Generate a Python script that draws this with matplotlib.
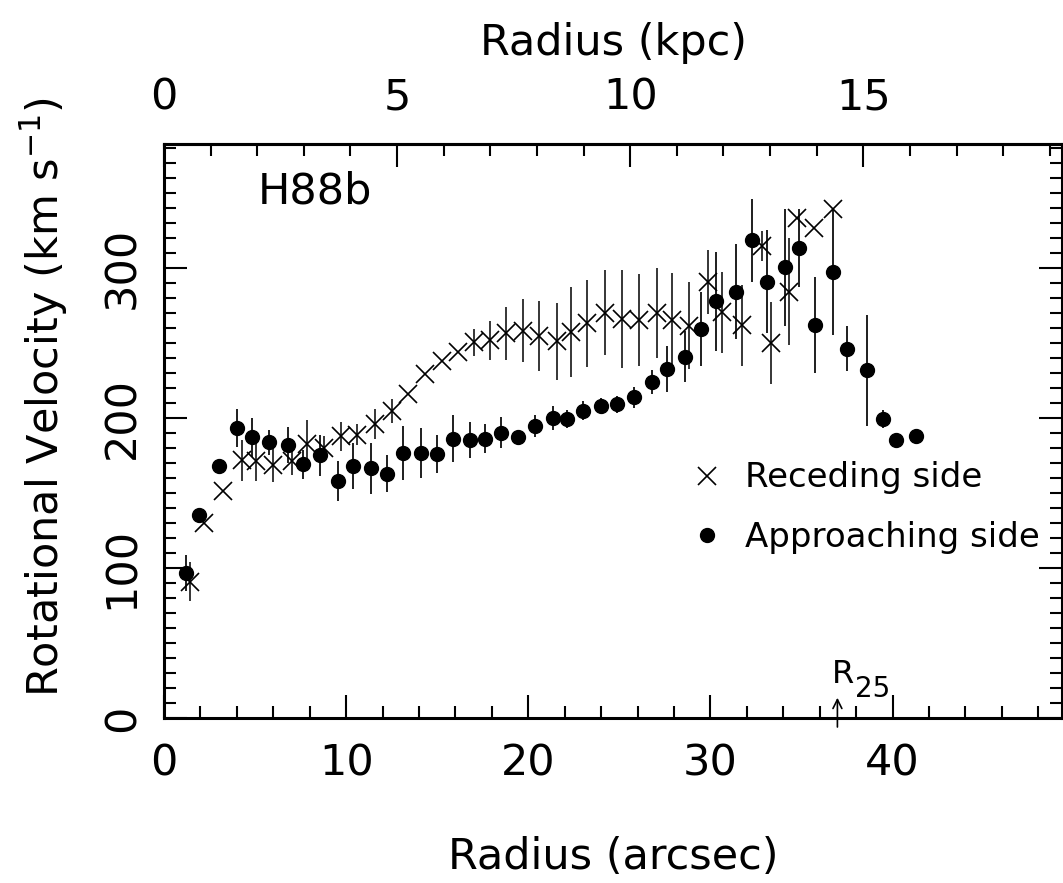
import numpy as np
import matplotlib
matplotlib.use("Agg")
import matplotlib.pyplot as plt
from matplotlib.ticker import MultipleLocator

# rotation curve of H88b, receding and approaching sides
rec_r = [1.43, 2.20, 3.26, 4.26, 5.03, 6.00, 7.00, 7.87, 8.80, 9.73,
         10.59, 11.60, 12.49, 13.37, 14.32, 15.27, 16.16, 17.04, 17.90, 18.76,
         19.69, 20.60, 21.55, 22.34, 23.20, 24.20, 25.16, 26.09, 27.08, 27.87,
         28.84, 29.88, 30.61, 31.71, 32.81, 33.32, 34.29, 34.77, 35.70, 36.74]
rec_v = [90.9, 129.8, 150.9, 171.6, 170.9, 168.7, 170.9, 182.4, 180.2, 187.6,
         188.7, 196.0, 204.2, 215.8, 229.1, 238.0, 243.5, 250.2, 251.5, 256.3,
         258.0, 254.5, 250.9, 257.4, 263.0, 270.0, 265.8, 265.2, 270.0, 265.2,
         261.2, 290.5, 270.2, 261.6, 314.5, 249.8, 284.0, 333.3, 326.2, 338.8]
rec_e = [13, 0, 0, 13.7, 13, 11.7, 9.2, 15.8, 7.9, 9.7,
         7, 10, 8, 0, 0, 0, 0, 9, 13.3, 17.5,
         21, 23.3, 25.7, 30, 29, 28.5, 32.7, 30.8, 30, 31,
         29, 21.5, 27, 27, 10, 27.5, 35.5, 0, 0, 0]

app_r = [1.19, 1.94, 3.00, 4.00, 4.81, 5.78, 6.79, 7.63, 8.58, 9.53,
         10.37, 11.38, 12.22, 13.14, 14.10, 15.00, 15.86, 16.79, 17.65, 18.51,
         19.41, 20.38, 21.33, 22.13, 23.00, 23.97, 24.86, 25.81, 26.78, 27.64,
         28.61, 29.49, 30.32, 31.38, 32.30, 33.09, 34.10, 34.85, 35.76, 36.74,
         37.50, 38.57, 39.50, 40.16, 41.31]
app_v = [96.4, 135.1, 167.6, 193.1, 187.1, 183.6, 181.8, 169.1, 175.1, 157.8,
         168.0, 166.4, 162.7, 176.4, 176.4, 176.0, 186.2, 185.3, 186.2, 190.2,
         187.1, 194.7, 199.8, 199.1, 204.7, 207.8, 208.9, 213.8, 223.6, 232.4,
         240.7, 259.1, 277.6, 284.0, 318.2, 290.7, 300.4, 313.2, 261.6, 297.1,
         246.1, 231.7, 199.1, 184.9, 187.6]
app_e = [12, 0, 0, 12.5, 13, 8.5, 12, 9.7, 13.6, 13.5,
         15.5, 17, 12.3, 17.8, 16.7, 12.6, 15.8, 12.2, 9.8, 10,
         0, 7.3, 8, 6.2, 6.5, 5.5, 5.5, 7, 8, 15.3,
         17, 24.5, 33, 31.5, 27.7, 34.5, 39, 25.8, 32, 42,
         15.2, 37, 6, 0, 0]

kpc_ticks = [0, 5, 10, 15]
r25 = 36.97            # arcsec
kpc_per_arcsec = 0.3907

plt.rcParams['font.family'] = ['DejaVu Sans']
plt.rcParams['mathtext.fontset'] = 'dejavusans'

fig = plt.figure(figsize=(10.63, 8.83), dpi=100)
ax = fig.add_axes([164/1063, 165/883, 898/1063, 574/883])

ax.errorbar(rec_r, rec_v, yerr=rec_e, fmt='none', ecolor='0.15', elinewidth=1.3, capsize=0)
ax.errorbar(app_r, app_v, yerr=app_e, fmt='none', ecolor='0.05', elinewidth=1.3, capsize=0)
ax.plot(rec_r, rec_v, ls='none', marker='x', ms=12.5, mew=1.2, color='k', label='Receding side')
ax.plot(app_r, app_v, ls='none', marker='o', ms=10, color='k', mec='k', label='Approaching side')

ax.set_xlim(0, 49.3)
ax.set_ylim(0, 382.4)

for s in ax.spines.values():
    s.set_linewidth(2.2)

ax.xaxis.set_major_locator(MultipleLocator(10))
ax.xaxis.set_minor_locator(MultipleLocator(2))
ax.yaxis.set_major_locator(MultipleLocator(100))
ax.yaxis.set_minor_locator(MultipleLocator(10))
ax.tick_params(which='both', direction='in', top=False, right=True, width=1.5, labelsize=31)
ax.tick_params(which='major', length=16.5)
ax.tick_params(which='minor', length=8.5)
ax.tick_params(axis='x', pad=18)
ax.tick_params(axis='y', pad=15, labelrotation=90)
for t in ax.get_yticklabels():
    t.set_va('center')

sec = ax.secondary_xaxis('top', functions=(lambda a: a * kpc_per_arcsec,
                                           lambda k: k / kpc_per_arcsec))
sec.set_xticks(kpc_ticks)
sec.xaxis.set_minor_locator(MultipleLocator(1))
sec.tick_params(which='both', direction='in', width=1.5, labelsize=31, pad=18)
sec.tick_params(which='major', length=16.5)
sec.tick_params(which='minor', length=8.5)
sec.spines['top'].set_linewidth(2.2)

ax.set_xlabel('Radius (arcsec)', fontsize=31)
ax.xaxis.set_label_coords(0.5, -0.205)
sec.set_xlabel('Radius (kpc)', fontsize=31, labelpad=16)
ax.set_ylabel(r'Rotational Velocity (km s$^{-1}$)', fontsize=31)
ax.yaxis.set_label_coords(-0.105, 0.56)

ax.text(5.15, 343, 'H88b', fontsize=31, va='baseline')

ax.legend(loc='upper left', bbox_to_anchor=(0.586, 0.447), frameon=False,
          fontsize=24.5, handlelength=1.0, handletextpad=0.6, labelspacing=0.78,
          borderpad=0, borderaxespad=0, markerscale=1.0)

# R25 marker below the curve
ax.annotate('', xy=(r25, 13.5), xytext=(r25, -6),
            arrowprops=dict(arrowstyle='->', lw=1.2, color='k', shrinkA=0, shrinkB=0,
                            mutation_scale=16),
            annotation_clip=False)
ax.text(r25 - 0.3, 23.3, 'R', fontsize=23, va='baseline')
ax.text(r25 + 0.95, 14.0, '25', fontsize=20, va='baseline')

fig.savefig('out.png', dpi=100)
